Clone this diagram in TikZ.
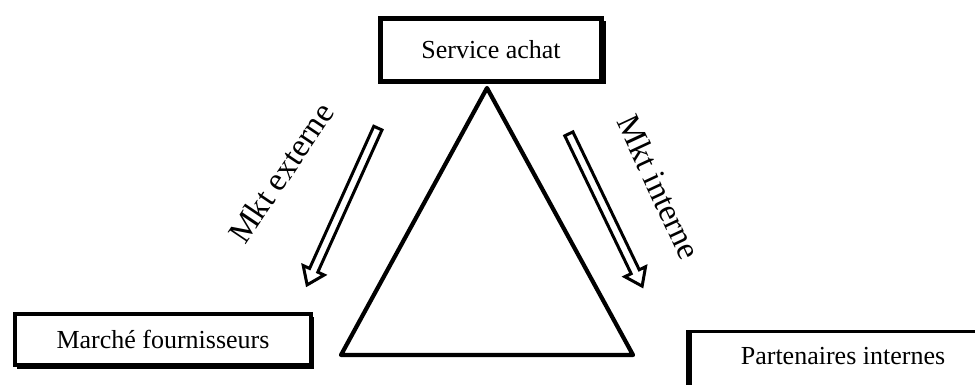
\documentclass[tikz,border=0pt]{standalone}
\usepackage{fontspec}
\setmainfont{Liberation Serif}
\begin{document}
\begin{tikzpicture}[x=1pt,y=-1pt,
  boxtext/.style={font=\fontsize{26}{30}\selectfont},
  mkttext/.style={font=\fontsize{33}{38}\selectfont},
  framebox/.style={draw=black,line width=4.5pt,fill=white,inner sep=0pt,
    minimum width=#1},
  blockarrow/.style={draw=black,line width=3pt,fill=white,line join=miter},
  tri/.style={draw=black,line width=4.2pt,line join=round,line cap=round}]
\clip (0,0) rectangle (975,385);
\fill[white] (0,0) rectangle (975,385);

% drop shadows behind the framed boxes
\fill[black] (383.5,21.5) rectangle (605.5,84.5);
\fill[black] (17,317) rectangle (313.5,368.5);

% framed boxes
\node[framebox=221pt,minimum height=63pt,boxtext] (achat) at (491,50) {Service achat};
\node[framebox=296pt,minimum height=51pt,boxtext] (marche) at (163,339.5) {Marché fournisseurs};
\node[draw=black,line width=2.5pt,fill=white,minimum width=320pt,minimum height=70pt,
      inner sep=0pt] (part) at (850,366.5) {};
\draw[line width=6pt] (part.north west) -- (part.south west);
\node[boxtext] (parttext) at (843,356) {Partenaires internes};

% triangle hanging from the buying department
\coordinate (apex) at (487,88);
\coordinate (bl) at (341,355);
\coordinate (br) at (633,355);
\draw[tri] (apex) -- (bl) -- (br) -- cycle;

% hollow block arrows
\begin{scope}[shift={(342.5,206.5)},rotate=245.7]
  \draw[blockarrow] (-86,-4.5) -- (70,-4.5) -- (70,-11.5) -- (86,0) -- (70,11.5)
    -- (70,4.5) -- (-86,4.5) -- cycle;
\end{scope}
\begin{scope}[shift={(605.5,210)},rotate=-64.3]
  \draw[blockarrow] (-84.5,-4.5) -- (68.5,-4.5) -- (68.5,-11.5) -- (84.5,0)
    -- (68.5,11.5) -- (68.5,4.5) -- (-84.5,4.5) -- cycle;
\end{scope}

% arrow labels
\node[mkttext,rotate=56] (ext) at (281,173) {Mkt externe};
\node[mkttext,rotate=-65] (int) at (659,187) {Mkt interne};
\end{tikzpicture}
\end{document}
